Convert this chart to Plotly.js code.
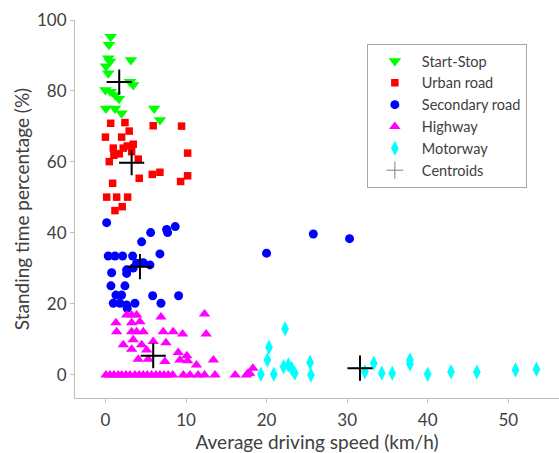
<!DOCTYPE html>
<html><head><meta charset="utf-8">
<script src="https://cdn.plot.ly/plotly-3.0.1.min.js"></script>
<style>html,body{margin:0;padding:0;background:#fff}#c{width:559px;height:453px}</style>
</head><body><div id="c"></div>
<script>
// Start-Stop
const ssX = [0.65,0.43,0.35,0.56,0.06,0.35,3.16,0.0,0.65,1.18,1.67,3.04,3.45,0.06,1.18,2.0,6.05,6.76];
const ssY = [95.3,93.0,89.2,88.3,87.0,85.0,88.7,80.3,79.8,78.9,77.8,82.6,81.7,75.1,75.1,73.7,75.1,71.8];
// Urban road
const urX = [0.65,2.42,5.93,9.45,2.95,0.0,2.01,3.45,2.70,2.21,0.97,3.25,1.71,1.05,10.2,4.07,0.47,4.19,5.81,6.76,10.2,9.33,0.89,0.15,1.39,2.75,2.08,1.18];
const urY = [70.9,71.1,70.2,70.1,68.7,67.0,67.0,65.0,64.5,63.9,63.9,62.9,62.3,61.9,62.5,60.8,60.1,55.4,56.5,57.1,56.1,54.5,54.0,50.1,50.1,50.1,47.4,46.3];
// Secondary road
const sdX = [0.15,5.61,7.59,7.72,8.66,4.49,6.76,0.35,1.18,2.13,3.37,3.87,4.69,5.52,3.45,0.77,2.63,2.63,0.68,2.42,1.30,2.01,5.86,9.08,0.97,1.80,2.63,3.66,6.89,2.70,20.0,25.8,30.3];
const sdY = [42.9,40.1,41.0,40.1,41.8,37.5,34.1,33.5,33.5,33.5,33.5,31.5,31.6,31.0,30.1,28.8,29.6,28.6,25.1,25.1,22.5,22.5,22.3,22.3,20.2,20.2,19.7,20.2,20.2,18.8,34.3,39.7,38.4];
// Highway
const hwX = [2.63,3.25,3.87,6.89,12.3,1.30,3.25,4.28,1.39,3.25,3.87,4.69,7.17,8.41,9.58,12.5,2.21,4.49,3.45,5.93,7.51,3.25,5.11,9.03,10.1,4.07,5.31,7.38,9.24,10.2,13.4,11.3,
  0.06,0.56,1.05,1.59,2.01,2.54,3.04,3.66,4.19,4.69,5.19,5.73,6.27,6.76,7.26,7.79,8.34,9.66,10.5,11.5,12.3,13.6,16.1,17.5,17.7,18.3,17.9];
const hwY = [16.9,16.9,16.9,16.3,17.2,14.7,14.7,15.0,12.2,12.2,12.2,12.2,12.2,12.2,11.5,11.5,8.5,8.5,9.9,9.4,9.1,7.2,7.0,6.3,5.4,4.4,4.4,3.8,4.2,4.0,4.2,2.8,
  0,0,0,0,0,0,0,0,0,0,0,0,0,0,0,0,0,0,0,0,0,0,0,0,0.5,1.9,0.5];
// Motorway
const mwX = [22.3,20.3,20.1,22.1,22.7,23.1,25.4,19.3,20.9,23.5,25.5,32.2,33.3,34.3,35.6,37.8,37.8,40.0,42.9,46.1,50.9,53.5];
const mwY = [13.0,7.8,4.2,2.3,2.8,1.9,3.5,0.2,0.2,0.5,0.0,0.9,3.3,0.5,0.5,4.2,3.1,0.2,0.9,0.8,1.4,1.6];
// Centroids
const ctX = [1.71,3.25,4.28,5.93,31.6];
const ctY = [82.5,59.8,30.5,5.4,1.9];

const traces = [
  {x: ssX, y: ssY, name: 'Start-Stop', mode: 'markers', type: 'scatter',
   marker: {symbol: 'triangle-down', size: 11, color: '#00ff00'}},
  {x: urX, y: urY, name: 'Urban road', mode: 'markers', type: 'scatter',
   marker: {symbol: 'square', size: 7.5, color: '#ff0000'}},
  {x: sdX, y: sdY, name: 'Secondary road', mode: 'markers', type: 'scatter',
   marker: {symbol: 'circle', size: 9, color: '#0000ff'}},
  {x: hwX, y: hwY, name: 'Highway', mode: 'markers', type: 'scatter',
   marker: {symbol: 'triangle-up', size: 10, color: '#ff00ff'}},
  {x: mwX, y: mwY, name: 'Motorway', mode: 'markers', type: 'scatter',
   marker: {symbol: 'diamond-tall', size: 11, color: '#00ffff'}},
  {x: ctX, y: ctY, name: 'Centroids', mode: 'markers', type: 'scatter',
   marker: {symbol: 'cross-thin', size: 12, color: '#808080', line: {color: '#808080', width: 1}}},
  {x: ctX, y: ctY, name: 'Centroids', mode: 'markers', type: 'scatter', showlegend: false,
   marker: {symbol: 'cross-thin', size: 18, color: '#000000', line: {color: '#000000', width: 2}}}
];

const axisCommon = {
  showgrid: false, zeroline: false, showline: true, linecolor: '#bfbfbf', linewidth: 1,
  ticks: 'outside', ticklen: 4, tickcolor: '#bfbfbf',
  tickfont: {family: 'Lato, sans-serif', size: 17, color: '#404040'}
};

const layout = {
  width: 559, height: 453,
  margin: {l: 75, r: 0, t: 20, b: 55},
  paper_bgcolor: '#fff', plot_bgcolor: '#fff',
  showlegend: true,
  xaxis: Object.assign({}, axisCommon, {
    range: [-3.78, 56.3], tickvals: [0,10,20,30,40,50], ticklabelstandoff: 3,
    title: {text: 'Average driving speed (km/h)', font: {family: 'Lato, sans-serif', size: 19, color: '#404040'}, standoff: 4}
  }),
  yaxis: Object.assign({}, axisCommon, {
    range: [-6.5, 100], tickvals: [0,20,40,60,80,100],
    title: {text: 'Standing time percentage (%)', font: {family: 'Lato, sans-serif', size: 19, color: '#404040'}, standoff: 2}
  }),
  legend: {
    x: 0.603, y: 0.9365, xanchor: 'left', yanchor: 'top',
    bgcolor: '#fff', bordercolor: '#a6a6a6', borderwidth: 1,
    font: {family: 'Lato, sans-serif', size: 14.5, color: '#404040'},
    itemwidth: 44, tracegroupgap: 0
  }
};

Plotly.newPlot('c', traces, layout, {displayModeBar: false, staticPlot: true});
</script>
</body></html>
